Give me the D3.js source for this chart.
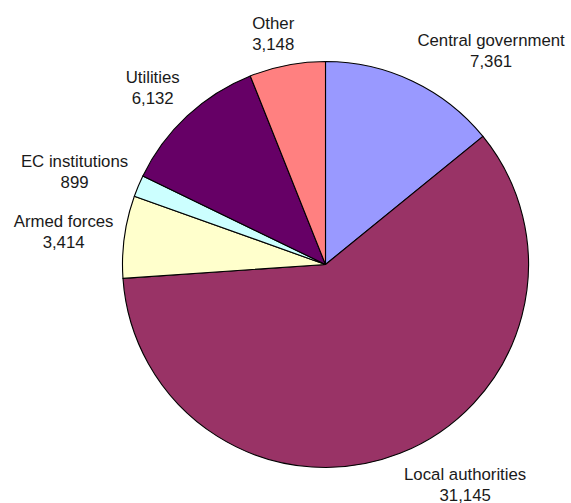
<!DOCTYPE html>
<html>
<head>
<meta charset="utf-8">
<script src="https://cdn.jsdelivr.net/npm/d3@7"></script>
<style>
  html, body { margin: 0; padding: 0; background: #fff; }
  svg { display: block; }
  .lbl text { font-family: "Liberation Sans", Arial, sans-serif; font-size: 16.8px; fill: #1a1a1a; }
</style>
</head>
<body>
<svg id="chart" width="571" height="503"></svg>
<script>
// Public-sector employment by sector (clockwise from 12 o'clock)
const categories = ["Central government", "Local authorities", "Armed forces", "EC institutions", "Utilities", "Other"];
const values = [7361, 31145, 3414, 899, 6132, 3148];
const colors = ["#9999FF", "#993366", "#FFFFCC", "#CCFFFF", "#660066", "#FF8080"];

const width = 571, height = 503;
const cx = 325.5, cy = 264.5, radius = 203;
const fmt = d3.format(",");

const svg = d3.select("#chart");
const g = svg.append("g").attr("transform", `translate(${cx},${cy})`);

const data = categories.map((c, i) => ({ name: c, value: values[i], color: colors[i] }));
const pie = d3.pie().sort(null).value(d => d.value).startAngle(0).endAngle(2 * Math.PI);
const arcs = pie(data);
const arc = d3.arc().innerRadius(0).outerRadius(radius);

g.selectAll("path.slice")
  .data(arcs)
  .enter().append("path")
  .attr("class", "slice")
  .attr("d", arc)
  .attr("fill", d => d.data.color)
  .attr("stroke", "#000")
  .attr("stroke-width", 1.1)
  .attr("stroke-linejoin", "round");

// Two-line labels outside each slice; the box is pushed away from the pie
// along the slice's mid-angle so its near edge sits just past the rim.
const labelR = radius + 11;
const lineH = 21;
const clamp = v => Math.max(-1, Math.min(1, v));

const lbl = g.selectAll("g.lbl")
  .data(arcs)
  .enter().append("g")
  .attr("class", "lbl");

lbl.append("text").attr("class", "l1").attr("text-anchor", "middle").text(d => d.data.name);
lbl.append("text").attr("class", "l2").attr("text-anchor", "middle").text(d => fmt(d.data.value));

lbl.each(function (d) {
  const sel = d3.select(this);
  const w = Math.max(sel.select(".l1").node().getComputedTextLength(),
                     sel.select(".l2").node().getComputedTextLength());
  const h = 2 * lineH;
  const a = (d.startAngle + d.endAngle) / 2;
  const s = Math.sin(a), c = Math.cos(a);
  const ax = labelR * s, ay = -labelR * c;
  const x = ax + (w / 2) * clamp(s * 3);
  const y = ay + (h / 2) * clamp(-c * 1.3);
  sel.select(".l1").attr("x", x).attr("y", y - lineH / 2 + 6);
  sel.select(".l2").attr("x", x).attr("y", y + lineH / 2 + 6);
});
</script>
</body>
</html>
